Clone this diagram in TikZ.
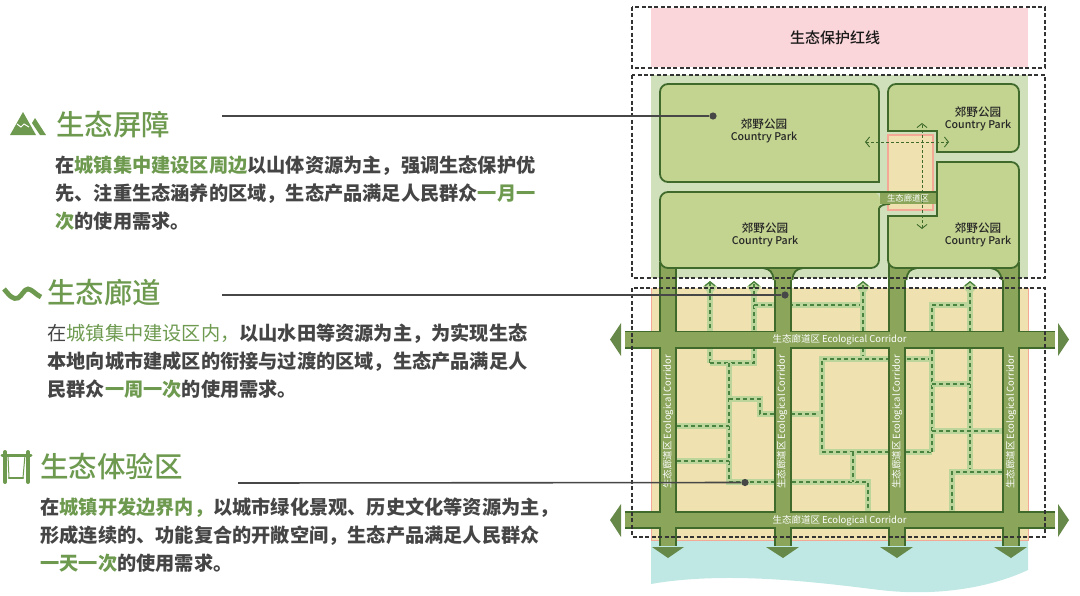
\documentclass[tikz,border=0pt]{standalone}
\usepackage{fontspec}
\usepackage{xcolor}
\usepackage{tikz}
\usetikzlibrary{arrows.meta}
\newfontfamily\cjk{Noto Sans CJK SC}
\newfontfamily\cjkmed{Noto Sans CJK SC Medium}
\definecolor{titlegreen}{HTML}{6E9A50}
\definecolor{bodygray}{HTML}{454545}
\definecolor{pinkzone}{HTML}{FAD5D9}
\definecolor{palezone}{HTML}{D0E0BB}
\definecolor{tanzone}{HTML}{F0E2B0}
\definecolor{waterzone}{HTML}{BFE8E4}
\definecolor{parkgreen}{HTML}{C3D490}
\definecolor{parkdark}{HTML}{3F6A2C}
\definecolor{corridorgreen}{HTML}{8BA55A}
\definecolor{arrowgreen}{HTML}{66894A}
\definecolor{trailpale}{HTML}{BCD59A}
\definecolor{traildark}{HTML}{4A8240}
\definecolor{edgeorange}{HTML}{F4A896}
\newcommand{\hl}[1]{\textcolor{titlegreen}{#1}}
\newcommand{\parkname}{郊野公园\\{\fontsize{5.3}{6}\selectfont Country Park}}
\tikzset{
  dashbox/.style={draw=black!80, line width=.6pt, dash pattern=on 2pt off 1.2pt},
  parkbox/.style={draw=parkdark, fill=parkgreen, line width=.9pt},
  corridoredge/.style={draw=parkdark, line width=9pt},
  corridorfill/.style={draw=corridorgreen, line width=7.4pt},
  flareedge/.style={draw=parkdark, line width=.9pt},
  trail/.style={preaction={draw=trailpale, line width=3.4pt, solid}, draw=traildark, line width=.65pt, dash pattern=on 2pt off 1.5pt},
  trailtip/.style={-{Straight Barb[length=2pt, width=5pt]}},
  crossarrow/.style={draw=parkdark, line width=.45pt, dash pattern=on 1.5pt off 1pt, {Straight Barb[length=2pt, width=5pt]}-{Straight Barb[length=2pt, width=5pt]}},
  titletext/.style={anchor=west, inner sep=0pt, text=titlegreen, font=\cjkmed\fontsize{14.25}{16}\selectfont},
  bodytext/.style={anchor=west, inner sep=0pt, align=left, text=bodygray, font=\cjk\bfseries\fontsize{9.6}{14}\selectfont},
  parklabel/.style={inner sep=0pt, align=center, text=black!85, font=\cjkmed\fontsize{5.8}{6}\selectfont},
  corridorlabel/.style={inner sep=0pt, text=white, font=\cjk\fontsize{4.75}{6}\selectfont},
  leadline/.style={draw=black!72, line width=.8pt},
  leaddot/.style={circle, fill=black!72, inner sep=0pt, minimum size=3.6pt},
}
\begin{document}
\begin{tikzpicture}[x=0.5pt, y=-0.5pt]
\useasboundingbox (0, 0) rectangle (1080, 595);

\fill[pinkzone] (651, 8) rectangle (1028, 67);
\fill[palezone] (651, 75) rectangle (1028, 278);
\fill[tanzone] (651, 288) rectangle (1028, 540);
\draw[edgeorange, line width=.5pt] (651, 288) -- (651, 540) -- (1028, 540) -- (1028, 288);
\fill[waterzone] (651, 541) -- (1028, 541) -- (1028, 570) .. controls (985, 590) and (930, 596) .. (880, 590) .. controls (830, 584) and (730, 570) .. (651, 584) -- cycle;

\draw[trail, trailtip] (710, 363) -- (710, 281);
\draw[trail, trailtip] (710, 363) -- (754, 363) -- (754, 281);
\draw[trail] (729, 363) -- (729, 482) -- (868, 482) -- (868, 511);
\draw[trail] (677, 426) -- (729, 426);
\draw[trail] (677, 461) -- (729, 461);
\draw[trail] (729, 399) -- (760, 399) -- (760, 414) -- (822, 414);
\draw[trail] (754, 305) -- (863, 305);
\draw[trail, trailtip] (863, 359) -- (863, 281);
\draw[trail] (932, 359) -- (822, 359) -- (822, 452) -- (932, 452);
\draw[trail] (932, 452) -- (932, 305) -- (970, 305);
\draw[trail, trailtip] (970, 472) -- (970, 281);
\draw[trail] (932, 384) -- (970, 384);
\draw[trail] (932, 431) -- (1002, 431);
\draw[trail] (1002, 472) -- (952, 472) -- (952, 511);
\draw[trail] (853, 452) -- (853, 482);

\draw[corridoredge] (668, 262) -- (668, 546);
\draw[corridoredge] (783, 262) -- (783, 546);
\draw[corridoredge] (897, 262) -- (897, 546);
\draw[corridoredge] (1011, 262) -- (1011, 546);
\draw[corridoredge] (625, 339.5) -- (1055, 339.5);
\draw[corridoredge] (625, 520) -- (1055, 520);
\draw[corridorfill] (668, 262) -- (668, 546);
\draw[corridorfill] (783, 262) -- (783, 546);
\draw[corridorfill] (897, 262) -- (897, 546);
\draw[corridorfill] (1011, 262) -- (1011, 546);
\draw[corridorfill] (625, 339.5) -- (1055, 339.5);
\draw[corridorfill] (625, 520) -- (1055, 520);

\fill[corridorgreen] (763, 268) .. controls (770, 269) and (773, 272) .. (773.5, 280) -- (776, 280) -- (776, 268) -- cycle;
\fill[corridorgreen] (803, 268) .. controls (796, 269) and (793, 272) .. (792.5, 280) -- (790, 280) -- (790, 268) -- cycle;
\fill[corridorgreen] (917, 268) .. controls (910, 269) and (907, 272) .. (906.5, 280) -- (904, 280) -- (904, 268) -- cycle;
\fill[corridorgreen] (990, 268) .. controls (997, 269) and (1001, 272) .. (1001.5, 280) -- (1004, 280) -- (1004, 268) -- cycle;
\draw[flareedge] (763, 268) .. controls (770, 269) and (773, 272) .. (773.5, 280);
\draw[flareedge] (803, 268) .. controls (796, 269) and (793, 272) .. (792.5, 280);
\draw[flareedge] (917, 268) .. controls (910, 269) and (907, 272) .. (906.5, 280);
\draw[flareedge] (990, 268) .. controls (997, 269) and (1001, 272) .. (1001.5, 280);

\fill[arrowgreen] (621, 323) -- (610, 339.5) -- (621, 356) -- cycle;
\fill[arrowgreen] (621, 504) -- (610, 520) -- (621, 537) -- cycle;
\fill[arrowgreen] (1058, 323) -- (1069, 339.5) -- (1058, 356) -- cycle;
\fill[arrowgreen] (1058, 504) -- (1069, 520) -- (1058, 537) -- cycle;
\fill[arrowgreen] (652, 547) -- (684, 547) -- (668, 558) -- cycle;
\fill[arrowgreen] (766, 547) -- (799, 547) -- (783, 558) -- cycle;
\fill[arrowgreen] (880, 547) -- (913, 547) -- (897, 558) -- cycle;
\fill[arrowgreen] (994, 547) -- (1027, 547) -- (1011, 558) -- cycle;

\draw[edgeorange, line width=1.2pt, fill=tanzone] (888, 135) rectangle (933, 210);
\draw[parkbox] (879, 182) [rounded corners=4pt] -- (879, 84) -- (660, 84) -- (660, 182) [sharp corners] -- (879, 182) -- cycle;
\draw[parkbox] (888, 131) -- (937, 131) -- (937, 152) [rounded corners=4pt] -- (1019, 152) -- (1019, 84) -- (888, 84) [sharp corners] -- cycle;
\fill[parkgreen, rounded corners=4pt] (880, 268) -- (660, 268) -- (660, 192) -- (880, 192) -- cycle;
\draw[flareedge] (879, 208) .. controls (881, 205) and (885, 204) .. (890, 204);
\draw[flareedge] (879, 208) [rounded corners=4pt] -- (879, 268) -- (660, 268) -- (660, 192) [sharp corners] -- (937, 192);
\fill[corridorgreen] (879.5, 192.5) rectangle (937, 204);
\draw[parkbox] (937, 216) -- (937, 162) [rounded corners=4pt] -- (1019, 162) -- (1019, 268) -- (888, 268) [sharp corners] -- (888, 216) -- cycle;
\draw[flareedge] (879, 192) -- (937, 192);

\draw[crossarrow] (865, 142) -- (949, 142);
\draw[crossarrow] (922, 229) -- (922, 123);

\draw[dashbox] (632, 7) rectangle (1045, 68);
\draw[dashbox] (632, 75) rectangle (1045, 278);
\draw[dashbox] (632, 288) rectangle (1045, 537);

\node[inner sep=0pt, text=black!90, font=\cjkmed\fontsize{7.5}{8}\selectfont] (redline) at (835, 37.5) {生态保护红线};
\node[parklabel] (parkone) at (764, 130.5) {\parkname};
\node[parklabel] (parktwo) at (978, 119) {\parkname};
\node[parklabel] (parkthree) at (765, 234.5) {\parkname};
\node[parklabel] (parkfour) at (978, 234.5) {\parkname};
\node[corridorlabel, font=\cjk\fontsize{4.2}{5}\selectfont] (gaplabel) at (908, 198) {生态廊道区};
\node[corridorlabel] (northlabel) at (839.5, 339.5) {生态廊道区 Ecological Corridor};
\node[corridorlabel] (southlabel) at (839.5, 520.5) {生态廊道区 Ecological Corridor};
\node[corridorlabel, rotate=90] (colone) at (668, 422) {生态廊道区 Ecological Corridor};
\node[corridorlabel, rotate=90] (coltwo) at (782, 422) {生态廊道区 Ecological Corridor};
\node[corridorlabel, rotate=90] (colthree) at (897, 422) {生态廊道区 Ecological Corridor};
\node[corridorlabel, rotate=90] (colfour) at (1011, 422) {生态廊道区 Ecological Corridor};

\fill[titlegreen] (10, 135) -- (23, 112) -- (36, 135) -- cycle;
\fill[titlegreen] (35, 118) -- (46, 135) -- (40, 135) -- (32, 123) -- cycle;
\draw[white, line width=.5pt] (17, 124) -- (21, 127) -- (24, 124) -- (29, 127);
\draw[titlegreen, line width=2.4pt] (4, 289) .. controls (10, 296) and (13, 300) .. (18, 298) .. controls (22, 296) and (24, 289) .. (28, 289) .. controls (32, 289) and (36, 295) .. (41, 297);
\draw[titlegreen, line width=2pt, line cap=round] (5, 452) -- (5, 482);
\draw[titlegreen, line width=2pt, line cap=round] (28, 452) -- (28, 482);
\draw[titlegreen, line width=1.5pt, line cap=round] (2, 455) -- (31, 455);
\draw[titlegreen, line width=1.2pt, line cap=round] (9, 478) -- (23, 478);
\draw[titlegreen, line width=.5pt] (8, 455) -- (9, 478);
\draw[titlegreen, line width=.5pt] (25, 455) -- (23, 478);

\node[titletext] (barriertitle) at (56, 125) {生态屏障};
\node[bodytext] (barrierbody) at (55, 193) {在\hl{城镇集中建设区周边}以山体资源为主，强调生态保护优\\先、注重生态涵养的区域，生态产品满足人民群众\hl{一月一}\\\hl{次}的使用需求。};
\node[titletext] (corridortitle) at (47, 293) {生态廊道};
\node[bodytext] (corridorbody) at (47, 361) {{\mdseries 在\hl{城镇集中建设区内，}}以山水田等资源为主，为实现生态\\本地向城市建成区的衔接与过渡的区域，生态产品满足人\\民群众\hl{一周一次}的使用需求。};
\node[titletext] (experiencetitle) at (40, 467) {生态体验区};
\node[bodytext] (experiencebody) at (40, 535) {在\hl{城镇开发边界内，}以城市绿化景观、历史文化等资源为主，\\形成连续的、功能复合的开敞空间，生态产品满足人民群众\\\hl{一天一次}的使用需求。};

\coordinate (barrierstart) at (222, 116);
\coordinate (corridorstart) at (222, 295);
\coordinate (experiencestart) at (238, 483);
\node[leaddot] (barrierdot) at (713, 116) {};
\node[leaddot] (corridordot) at (785, 295) {};
\node[leaddot] (experiencedot) at (745, 482.5) {};
\draw[leadline] (barrierstart) -- (barrierdot);
\draw[leadline] (corridorstart) -- (corridordot);
\draw[leadline] (experiencestart) -- (experiencedot);
\end{tikzpicture}
\end{document}
